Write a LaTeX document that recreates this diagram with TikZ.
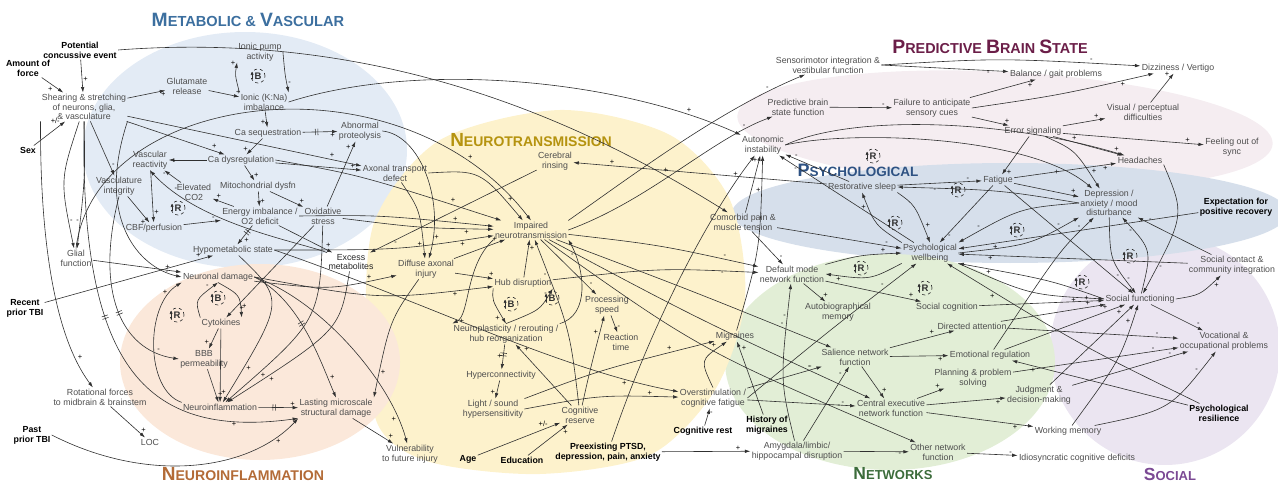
\documentclass[tikz,border=0pt]{standalone}
\usepackage{fontspec}
\setmainfont{Liberation Sans}
\usetikzlibrary{arrows.meta,decorations.markings}
\definecolor{lc}{HTML}{303030}
\definecolor{tc}{HTML}{4E4E4E}
\definecolor{rBlue}{HTML}{E3EBF5}
\definecolor{rPeach}{HTML}{FBE8DA}
\definecolor{rYellow}{HTML}{FDF2CC}
\definecolor{rPink}{HTML}{F5EDF1}
\definecolor{rPsy}{HTML}{D6DFEB}
\definecolor{rGreen}{HTML}{E2EED6}
\definecolor{rPurple}{HTML}{EBE5F1}
\definecolor{tMet}{HTML}{3C6F9F}
\definecolor{tNeu}{HTML}{B5930F}
\definecolor{tPre}{HTML}{6B1E48}
\definecolor{tPsy}{HTML}{2E5283}
\definecolor{tInf}{HTML}{B36B37}
\definecolor{tNet}{HTML}{3C6C3B}
\definecolor{tSoc}{HTML}{7B4994}
\newcommand\TT[4]{{\fontsize{#3}{#3}\selectfont #1}{\fontsize{#4}{#4}\selectfont #2}}
\begin{document}
\begin{tikzpicture}[x=1pt,y=-1pt,
  nd/.style={text=tc,font=\fontsize{8.8}{9.8}\selectfont,align=center,inner sep=1.2pt},
  ex/.style={text=black,font=\bfseries\fontsize{8.8}{9.8}\selectfont,align=center,inner sep=1.2pt},
  cl/.style={draw=lc,line width=0.6pt,-{Latex[length=5.5pt,width=3.5pt]}},
  pl/.style={font=\fontsize{7.5}{7.5}\selectfont,text=black,inner sep=0.8pt,pos=0.86,auto},
  dmark/.style={postaction={decorate,decoration={markings,mark=at position #1 with {\draw[lc,line width=0.55pt,-] (-1.3pt,-3.2pt)--(-1.3pt,3.2pt) (1.3pt,-3.2pt)--(1.3pt,3.2pt);}}}},
  dmark/.default=0.5,
  lp/.style={circle,draw=lc,dashed,line width=0.65pt,inner sep=0pt,minimum size=14pt,text=lc,font=\bfseries\fontsize{9.5}{9.5}\selectfont},
  la/.style={draw=lc,line width=0.9pt,-{Latex[length=3.2pt,width=3.2pt]}},
  ttl/.style={font=\bfseries,inner sep=0pt}
]
\useasboundingbox (0,0) rectangle (1278,484);
% ---------- regions ----------
\fill[rPink,rotate around={-3:(1005,130)}] (1005,130) ellipse [x radius=268,y radius=58];
\fill[rPurple] (1165,350) ellipse [x radius=115,y radius=115];
\fill[rPsy] (1010,213) ellipse [x radius=278,y radius=50];
\fill[rGreen] (890,362) ellipse [x radius=165,y radius=108];
\fill[rBlue] (245,150) ellipse [x radius=162,y radius=118];
\fill[rYellow] plot[smooth cycle] coordinates {(560,110) (670,135) (730,200) (745,300) (715,390) (650,455) (540,474) (430,462) (378,425) (366,330) (375,220) (440,140)};
\fill[rPeach] (260,362) ellipse [x radius=140,y radius=98];
% ---------- titles ----------
\node[ttl,text=tMet] (t1) at (248,20) {\TT{M}{ETABOLIC \& }{19.3}{14.6}\TT{V}{ASCULAR}{19.3}{14.6}};
\node[ttl,text=tNeu] (t2) at (531,140) {\TT{N}{EUROTRANSMISSION}{19}{14}};
\node[ttl,text=tPre] (t3) at (990,47) {\TT{P}{REDICTIVE }{19.4}{14.4}\TT{B}{RAIN }{19.4}{14.4}\TT{S}{TATE}{19.4}{14.4}};
\node[ttl,text=tPsy] (t4) at (858,170) {\TT{P}{SYCHOLOGICAL}{18}{13.5}};
\node[ttl,text=tInf] (t5) at (243,474) {\TT{N}{EUROINFLAMMATION}{19}{14.1}};
\node[ttl,text=tNet] (t6) at (893,474) {\TT{N}{ETWORKS}{17.5}{13}};
\node[ttl,text=tSoc] (t7) at (1170,474) {\TT{S}{OCIAL}{17.5}{13}};
% ---------- nodes ----------
\node[ex] (pce) at (80,50) {Potential\\concussive event};
\node[ex] (aof) at (28,68) {Amount of\\force};
\node[ex] (sex) at (28,150) {Sex};
\node[ex] (rtbi) at (25,308) {Recent\\prior TBI};
\node[ex] (ptbi) at (32,435) {Past\\prior TBI};
\node[nd] (shear) at (84,107) {Shearing \& stretching\\of neurons, glia,\\\& vasculature};
\node[nd] (glu) at (187,86) {Glutamate\\release};
\node[nd] (pump) at (260,52) {Ionic pump\\activity};
\node[nd] (ionic) at (264,102) {Ionic (K:Na)\\imbalance};
\node[nd] (caseq) at (268,133) {Ca sequestration};
\node[nd] (cadys) at (241,160) {Ca dysregulation};
\node[nd] (vasr) at (150,160) {Vascular\\reactivity};
\node[nd] (prot) at (360,131) {Abnormal\\proteolysis};
\node[nd] (axon) at (395,173) {Axonal transport\\defect};
\node[nd] (vasi) at (119,186) {Vasculature\\integrity};
\node[nd] (co2) at (194,192) {Elevated\\CO2};
\node[nd] (mito) at (258,186) {Mitochondrial dysfn};
\node[nd] (energy) at (260,216) {Energy imbalance /\\O2 deficit};
\node[nd] (cbf) at (154,228) {CBF/perfusion};
\node[nd] (oxid) at (323,216) {Oxidative\\stress};
\node[nd] (hypo) at (233,250) {Hypometabolic state};
\node[nd] (glial) at (76,258) {Glial\\function};
\node[nd,text=black!85] (excess) at (351,262) {Excess\\metabolites};
\node[nd] (dai) at (426,269) {Diffuse axonal\\injury};
\node[nd] (neur) at (218,277) {Neuronal damage};
\node[nd] (cyto) at (221,323) {Cytokines};
\node[nd] (bbb) at (204,359) {BBB\\permeability};
\node[nd] (ninf) at (220,407) {Neuroinflammation};
\node[nd] (lasting) at (336,408) {Lasting microscale\\structural damage};
\node[nd] (rot) at (100,397) {Rotational forces\\to midbrain \& brainstem};
\node[nd] (loc) at (150,442) {LOC};
\node[nd] (vuln) at (410,454) {Vulnerability\\to future injury};
\node[nd] (rinse) at (555,161) {Cerebral\\rinsing};
\node[nd] (imp) at (531,230) {Impaired\\neurotransmission};
\node[nd] (hub) at (523,283) {Hub disruption};
\node[nd] (proc) at (607,305) {Processing\\speed};
\node[nd] (plast) at (506,334) {Neuroplasticity / rerouting /\\hub reorganization};
\node[nd] (react) at (621,342) {Reaction\\time};
\node[nd] (hyper) at (501,375) {Hyperconnectivity};
\node[nd] (light) at (493,409) {Light / sound\\hypersensitivity};
\node[nd] (cres) at (580,415) {Cognitive\\reserve};
\node[ex] (age) at (468,459) {Age};
\node[ex] (edu) at (522,460) {Education};
\node[ex] (pre) at (608,452) {Preexisting PTSD,\\depression, pain, anxiety};
\node[nd] (mig) at (735,336) {Migraines};
\node[nd] (over) at (713,398) {Overstimulation /\\cognitive fatigue};
\node[ex] (crest) at (703,431) {Cognitive rest};
\node[ex] (hmig) at (767,425) {History of\\migraines};
\node[nd] (amyg) at (797,451) {Amygdala/limbic/\\hippocampal disruption};
\node[nd] (dmn) at (792,274) {Default mode\\network function};
\node[nd] (auto) at (838,312) {Autobiographical\\memory};
\node[nd] (scog) at (947,307) {Social cognition};
\node[nd] (dattn) at (972,326) {Directed attention};
\node[nd] (sal) at (855,357) {Salience network\\function};
\node[nd] (emo) at (990,355) {Emotional regulation};
\node[nd] (plan) at (973,378) {Planning \& problem\\solving};
\node[nd] (cen) at (891,408) {Central executive\\network function};
\node[nd] (judg) at (1039,395) {Judgment \&\\decision-making};
\node[nd] (wm) at (1068,431) {Working memory};
\node[nd] (other) at (938,452) {Other network\\function};
\node[nd] (idio) at (1077,458) {Idiosyncratic cognitive deficits};
\node[nd] (sfun) at (1140,299) {Social functioning};
\node[nd] (scont) at (1232,265) {Social contact \&\\community integration};
\node[nd] (voc) at (1224,341) {Vocational \&\\occupational problems};
\node[ex] (resil) at (1219,413) {Psychological\\resilience};
\node[nd] (autoi) at (763,145) {Autonomic\\instability};
\node[nd] (pain) at (743,222) {Comorbid pain \&\\muscle tension};
\node[nd] (sleep) at (862,187) {Restorative sleep};
\node[nd] (wellb) at (930,253) {Psychological\\wellbeing};
\node[nd] (fat) at (998,180) {Fatigue};
\node[nd] (dep) at (1109,203) {Depression /\\anxiety / mood\\disturbance};
\node[nd] (head) at (1140,160) {Headaches};
\node[ex] (expect) at (1236,207) {Expectation for\\positive recovery};
\node[nd] (sens) at (828,65) {Sensorimotor integration \&\\vestibular function};
\node[nd] (pbs) at (798,107) {Predictive brain\\state function};
\node[nd] (fail) at (932,108) {Failure to anticipate\\sensory cues};
\node[nd] (bal) at (1056,74) {Balance / gait problems};
\node[nd] (dizz) at (1178,68) {Dizziness / Vertigo};
\node[nd] (vis) at (1143,112) {Visual / perceptual\\difficulties};
\node[nd] (err) at (1033,131) {Error signaling};
\node[nd] (sync) at (1232,147) {Feeling out of\\sync};
% ---------- loop symbols ----------
\foreach \n/\p/\t in {l1/{(258,76)}/B, l2/{(178,208)}/R, l3/{(218,298)}/B, l4/{(177,315)}/R, l5/{(511,304)}/B, l6/{(552,298)}/B, l7/{(873,156)}/R, l8/{(958,190)}/R, l9/{(895,223)}/R, l10/{(861,268)}/R, l11/{(925,288)}/R, l12/{(1017,230)}/R, l13/{(1130,256)}/R, l14/{(1082,282)}/R}{
  \node[lp] (\n) at \p {\t};
  \draw[la] ([xshift=1.5pt,yshift=-3.5pt]\n.west) -- ([xshift=1.5pt,yshift=4.5pt]\n.west);
}
% ---------- metabolic ----------
\draw[cl] (pce) -- node[pl,pos=0.7]{+} (shear);
\draw[cl] (aof) -- node[pl,swap,pos=0.55]{+} (shear);
\draw[cl] (sex) -- node[pl]{+/-} (shear);
\draw[cl] (shear) -- node[pl,swap]{+} (glu);
\draw[cl] (glu) -- node[pl]{+} (ionic);
\draw[cl] (pump.east) .. controls (285,75) .. node[pl]{-} (ionic.north east);
\draw[cl] (ionic.north west) .. controls (235,75) .. node[pl]{+} (pump.south west);
\draw[cl] (ionic) -- node[pl,swap,pos=0.5]{+} (caseq);
\draw[cl,dmark=0.4] (caseq) -- node[pl,swap]{+} (prot);
\draw[cl] (caseq) -- node[pl,swap]{+} (cadys);
\draw[cl] (cadys) -- node[pl]{-} (vasr);
\draw[cl] (cadys) -- node[pl]{+} (mito);
\draw[cl] (shear) -- node[pl]{+} (cadys);
\draw[cl] (shear) -- node[pl]{+} (axon);
\draw[cl] (cadys) -- node[pl]{+} (axon);
\draw[cl] (oxid) -- node[pl]{+} (prot);
\draw[cl] (prot.east) .. controls (420,135) and (445,200) .. node[pl]{+} (dai);
\draw[cl] (mito) -- node[pl]{+} (energy);
\draw[cl] (mito) -- node[pl]{+} (oxid);
\draw[cl] (energy) -- node[pl,swap]{+} (co2);
\draw[cl] (co2) -- node[pl]{-} (vasr);
\draw[cl] (vasr) -- node[pl]{+} (cbf);
\draw[cl] (vasi) -- node[pl,swap]{+} (cbf);
\draw[cl] (cbf) -- node[pl]{-} (energy);
\draw[cl,dmark=0.35] (energy) -- node[pl,pos=0.6]{+} (hypo);
\draw[cl] (shear) -- node[pl]{-} (vasi);
\draw[cl] (shear) .. controls (60,180) .. node[pl]{-} (glial);
\draw[cl] (shear) .. controls (85,180) .. node[pl,swap]{-} (glial);
\draw[cl] (shear.south east) .. controls (95,220) and (140,268) .. node[pl]{+} (neur.west);
\draw[cl] (glial) -- node[pl,swap]{-} (neur);
\draw[cl] (rtbi) -- node[pl,pos=0.93]{+} (hypo);
\draw[cl] (shear.south west) .. controls (40,220) and (50,330) .. node[pl]{+} (rot);
\draw[cl] (rot) -- node[pl]{+} (loc);
\draw[cl] (excess) .. controls (300,242) and (200,225) .. node[pl,swap]{-} (vasr.south);
\draw[cl] (energy) -- node[pl]{+} (excess);
\draw[cl] (axon) .. controls (420,210) .. node[pl,swap]{+} (dai);
\draw[cl] (axon.east) .. controls (480,170) .. node[pl]{+} (imp);
\draw[cl] (dai) -- node[pl]{+} (imp);
\draw[cl] (dai) -- node[pl]{+} (hub);
\draw[cl] (rinse) -- node[pl]{-} (excess);
\draw[cl] (sleep) -- node[pl,swap]{+} (rinse);
\draw[cl] (neur) .. controls (330,290) .. node[pl]{+} (dai);
\draw[cl] (neur.east) .. controls (380,300) .. node[pl,swap]{+} (hub);
\draw[cl] (cadys.east) .. controls (360,175) .. node[pl]{+} (imp);
\draw[cl] (energy.east) .. controls (380,215) .. node[pl]{+} (imp);
\draw[cl] (oxid) .. controls (420,228) .. node[pl,swap]{+} (imp);
\draw[cl] (hypo.east) .. controls (400,250) .. node[pl,swap]{+} (imp);
\draw[cl] (glial.north) .. controls (95,90) and (400,50) .. node[pl]{+} (imp.north);
\draw[cl] (pce.east) .. controls (380,30) and (580,120) .. node[pl]{+} (pain);
\draw[cl] (ionic.east) .. controls (420,60) and (620,80) .. node[pl]{+} (autoi);
% ---------- neuroinflammation ----------
\draw[cl] (neur.south) .. controls (240,295) .. node[pl]{+} (cyto.north east);
\draw[cl] (cyto.north west) .. controls (195,300) .. node[pl]{-} (neur.south);
\draw[cl] (cyto) -- node[pl,swap]{+} (bbb);
\draw[cl] (bbb) -- node[pl]{+} (ninf);
\draw[cl] (cyto) -- node[pl]{+} (ninf);
\draw[cl] (ninf.north west) .. controls (145,390) and (145,305) .. node[pl]{+} (neur.south west);
\draw[cl,dmark=0.4] (ninf) -- node[pl]{+} (lasting);
\draw[cl] (lasting) -- node[pl]{+} (vuln);
\draw[cl] (ptbi.east) .. controls (150,485) and (250,470) .. node[pl,swap]{+} (lasting.south west);
\draw[cl,dmark=0.45] (shear.south) .. controls (80,360) and (140,440) .. node[pl,swap]{+} (lasting.south west);
\draw[cl,dmark=0.6] (vasi.south) .. controls (95,290) and (120,350) .. node[pl]{-} (bbb.west);
\draw[cl,dmark=0.45] (neur.east) .. controls (300,300) and (320,360) .. node[pl]{+} (lasting.north);
\draw[cl] (dai) .. controls (390,320) .. node[pl]{+} (lasting.north east);
\draw[cl] (neur.east) .. controls (320,300) and (390,380) .. node[pl,swap]{+} (vuln);
\draw[cl] (hypo) .. controls (285,300) .. node[pl]{+} (ninf);
\draw[cl] (oxid) .. controls (320,320) .. node[pl]{+} (ninf);
\draw[cl] (excess) .. controls (340,330) .. node[pl]{+} (ninf);
\draw[cl] (oxid) -- node[pl]{+} (cyto);
% ---------- neurotransmission ----------
\draw[cl] (hub) -- node[pl,swap]{+} (imp);
\draw[cl] (imp.south west) .. controls (465,265) and (470,315) .. node[pl]{+} (plast.north west);
\draw[cl] (hub.south west) .. controls (492,300) .. node[pl,swap]{+} (plast.north);
\draw[cl] (plast.north) .. controls (540,310) .. node[pl]{-} (hub.south east);
\draw[cl] (plast.north east) .. controls (590,315) and (585,270) .. node[pl]{-} (imp.south east);
\draw[cl] (imp) -- node[pl]{-} (proc);
\draw[cl] (proc) -- node[pl]{-} (react);
\draw[cl] (cres) .. controls (590,370) .. node[pl]{+} (proc);
\draw[cl,dmark=0.4] (plast) -- node[pl,swap,pos=0.6]{+} (hyper);
\draw[cl] (hyper) -- node[pl,swap]{+} (light);
\draw[cl] (light.east) .. controls (600,395) .. node[pl]{+} (over);
\draw[cl] (light.north east) .. controls (600,370) .. node[pl]{+} (mig);
\draw[cl] (cres) -- node[pl,swap]{+} (plast);
\draw[cl] (cres) .. controls (570,330) .. node[pl]{-} (imp);
\draw[cl] (age) -- node[pl]{+/-} (cres);
\draw[cl] (edu) -- node[pl,swap]{+} (cres);
\draw[cl] (pre) .. controls (660,300) and (720,200) .. node[pl]{+} (autoi);
\draw[cl] (pre) -- node[pl]{+} (amyg);
\draw[cl] (hypo.east) .. controls (420,300) and (560,370) .. node[pl,swap]{+} (over);
\draw[cl] (over.north) .. controls (700,360) .. node[pl]{+} (mig);
\draw[cl] (crest) -- node[pl,swap]{-} (over);
\draw[cl] (hmig) -- node[pl,swap]{+} (mig);
\draw[cl] (over) -- node[pl]{-} (sal);
\draw[cl] (over) -- node[pl]{-} (cen);
\draw[cl] (amyg) -- node[pl,swap]{-} (other);
\draw[cl] (amyg) -- node[pl]{-} (sal);
\draw[cl] (amyg) .. controls (780,380) .. node[pl]{-} (dmn);
\draw[cl] (imp) .. controls (660,245) .. node[pl]{-} (dmn);
\draw[cl] (hub) .. controls (660,268) .. node[pl,swap]{-} (dmn);
\draw[cl] (imp) .. controls (690,290) .. node[pl]{-} (sal);
\draw[cl] (imp) .. controls (700,320) .. node[pl]{-} (cen);
\draw[cl] (imp) .. controls (700,350) .. node[pl]{-} (other);
\draw[cl] (imp.north east) .. controls (640,170) and (720,110) .. node[pl]{-} (sens);
\draw[cl] (imp.east) .. controls (650,200) and (710,140) .. node[pl]{-} (pbs);
\draw[cl] (mig) .. controls (760,250) .. node[pl]{+} (autoi);
\draw[cl] (pain) -- node[pl]{+} (autoi);
\draw[cl] (wellb) -- node[pl]{-} (autoi);
\draw[cl] (sleep) -- node[pl,swap]{-} (autoi);
% ---------- predictive ----------
\draw[cl] (sens.east) .. controls (1000,58) .. node[pl]{-} (dizz);
\draw[cl] (sens.east) -- node[pl,swap]{-} (bal);
\draw[cl] (pbs) -- node[pl]{-} (fail);
\draw[cl] (fail) -- node[pl,swap]{+} (bal);
\draw[cl] (fail.east) .. controls (1060,95) .. node[pl,swap]{+} (dizz);
\draw[cl] (fail) -- node[pl]{+} (err);
\draw[cl] (err) -- node[pl]{+} (vis);
\draw[cl] (err) -- node[pl]{+} (sync);
\draw[cl] (err) -- node[pl]{+} (head);
\draw[cl] (err) -- node[pl]{+} (fat);
\draw[cl] (err) .. controls (1075,150) .. node[pl]{+} (dep);
\draw[cl] (vis) -- node[pl]{+} (dizz);
\draw[cl] (autoi.east) .. controls (850,115) and (1000,118) .. node[pl]{+} (head);
\draw[cl] (autoi.east) .. controls (850,130) and (1030,135) .. node[pl,swap]{+} (dep);
% ---------- psychological ----------
\draw[cl] (fat) -- node[pl,swap]{+} (head);
\draw[cl] (head.south east) .. controls (1185,215) .. node[pl]{-} (sfun);
\draw[cl] (fat) -- node[pl]{+} (dep);
\draw[cl] (fat) -- node[pl]{-} (sfun);
\draw[cl] (fat) -- node[pl]{-} (wellb);
\draw[cl] (sleep) -- node[pl]{-} (fat);
\draw[cl] (dep.west) .. controls (1000,190) .. node[pl]{-} (sleep.east);
\draw[cl] (sleep.south east) .. controls (915,205) .. node[pl]{+} (wellb.north);
\draw[cl] (wellb.north west) .. controls (875,225) .. node[pl]{+} (sleep.south);
\draw[cl] (dep.west) .. controls (1020,208) .. node[pl,swap]{-} (wellb.north east);
\draw[cl] (wellb.east) .. controls (1030,245) .. node[pl]{-} (dep.south west);
\draw[cl] (expect) -- node[pl]{+} (wellb);
\draw[cl] (scont) -- node[pl]{+} (wellb);
\draw[cl] (scont) -- node[pl,swap]{-} (dep);
\draw[cl] (sfun.east) .. controls (1200,295) .. node[pl,swap]{+} (scont);
\draw[cl] (dep) .. controls (1110,260) .. node[pl]{-} (sfun);
\draw[cl] (sfun) .. controls (1152,250) .. node[pl]{-} (dep);
\draw[cl] (sfun.west) .. controls (1050,280) .. node[pl]{+} (wellb.south east);
\draw[cl] (wellb.south east) .. controls (1030,295) .. node[pl,swap]{+} (sfun.west);
\draw[cl] (sfun) -- node[pl]{-} (voc);
\draw[cl] (emo) .. controls (1060,250) .. node[pl]{-} (dep);
\draw[cl] (pain) -- node[pl]{-} (dmn);
\draw[cl] (pain) -- node[pl]{-} (wellb);
\draw[cl] (over.east) .. controls (830,330) .. node[pl]{-} (wellb);
% ---------- networks & social ----------
\draw[cl] (dmn) -- node[pl]{+} (auto);
\draw[cl] (dmn) -- node[pl]{+} (scog);
\draw[cl] (wellb.south west) .. controls (870,280) .. node[pl]{+} (dmn.east);
\draw[cl] (dmn.north east) .. controls (860,255) .. node[pl]{+} (wellb.west);
\draw[cl] (scog) -- node[pl]{+} (sfun);
\draw[cl] (dattn) -- node[pl]{+} (sfun);
\draw[cl] (emo) -- node[pl]{+} (sfun);
\draw[cl] (judg) -- node[pl]{+} (sfun);
\draw[cl] (wm) .. controls (1120,360) .. node[pl]{+} (sfun);
\draw[cl] (dattn) -- node[pl]{-} (voc);
\draw[cl] (plan) -- node[pl]{-} (voc);
\draw[cl] (judg) -- node[pl]{-} (voc);
\draw[cl] (wm) .. controls (1170,410) .. node[pl]{-} (voc);
\draw[cl] (resil) -- node[pl]{+} (emo);
\draw[cl] (resil) .. controls (1080,345) .. node[pl]{+} (wellb);
\draw[cl] (sal) -- node[pl,pos=0.7]{+} (dattn);
\draw[cl] (sal) -- node[pl,swap]{+} (emo);
\draw[cl] (sal) -- node[pl]{+} (cen);
\draw[cl] (cen) -- node[pl]{+} (plan);
\draw[cl] (cen) -- node[pl,swap]{+} (judg);
\draw[cl] (cen) -- node[pl,swap]{+} (wm);
\draw[cl] (other) -- node[pl]{-} (idio);
\end{tikzpicture}
\end{document}
